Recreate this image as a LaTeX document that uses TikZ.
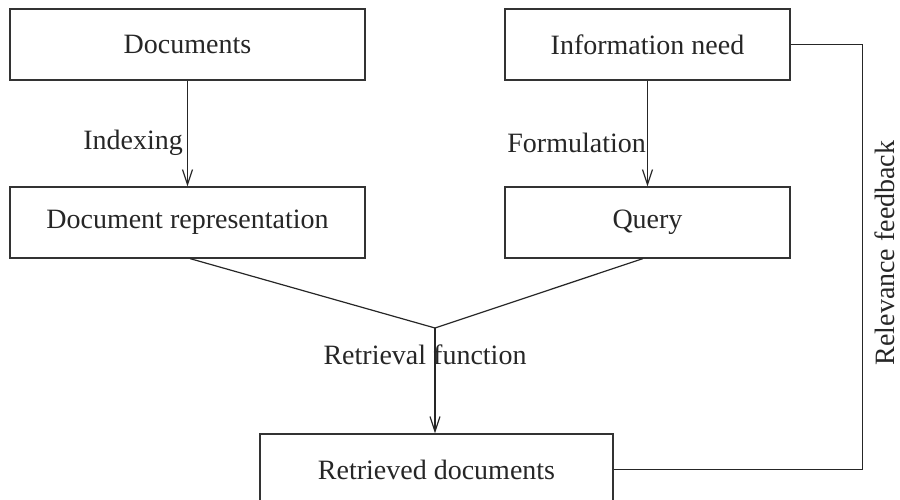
\documentclass[tikz,border=0pt]{standalone}
\usepackage{fontspec}
\setmainfont{Liberation Serif}
\usetikzlibrary{arrows.meta,calc}
\begin{document}
\begin{tikzpicture}[x=1pt,y=-1pt,
  every node/.style={font=\fontsize{28}{34}\selectfont, text=black!85},
  box/.style={draw=black!80, line width=1.2pt, minimum height=71pt, inner sep=0pt, fill=white},
  conn/.style={draw=black!85, line width=1.2pt},
  arr/.style={conn, -{Straight Barb[length=15pt,width=10pt,line width=1.2pt]}},
  lbl/.style={inner sep=0pt}]
\useasboundingbox (0,0) rectangle (900,500);
\clip (0,0) rectangle (900,500);
\node[box, minimum width=355pt] (docs) at (187.5,44.5) {Documents};
\node[box, minimum width=285pt] (info) at (647.5,44.5) {Information need};
\node[box, minimum width=355pt] (drep) at (187.5,222.5) {Document representation};
\node[box, minimum width=285pt] (query) at (647.5,222.5) {Query};
\node[box, minimum width=353pt] (retr) at (436.5,469.5) {Retrieved documents};
\coordinate (join) at (435,328);
\draw[arr] (docs) -- (drep);
\draw[arr] (info) -- (query);
\draw[conn] ($(drep.south)+(2.5,0)$) -- (join) -- ($(query.south)+(-4.5,0)$);
\draw[arr] (join) -- (join |- retr.north);
\draw[conn] (info.east) -- ++(72,0) |- (retr.east);
\node[lbl, anchor=east] (lidx) at (183,143) {Indexing};
\node[lbl, anchor=east] (lform) at (646,143) {Formulation};
\node[lbl] (lret) at (425,355) {Retrieval function};
\node[lbl, rotate=90] (lrel) at (885,253) {Relevance feedback};
\end{tikzpicture}
\end{document}
